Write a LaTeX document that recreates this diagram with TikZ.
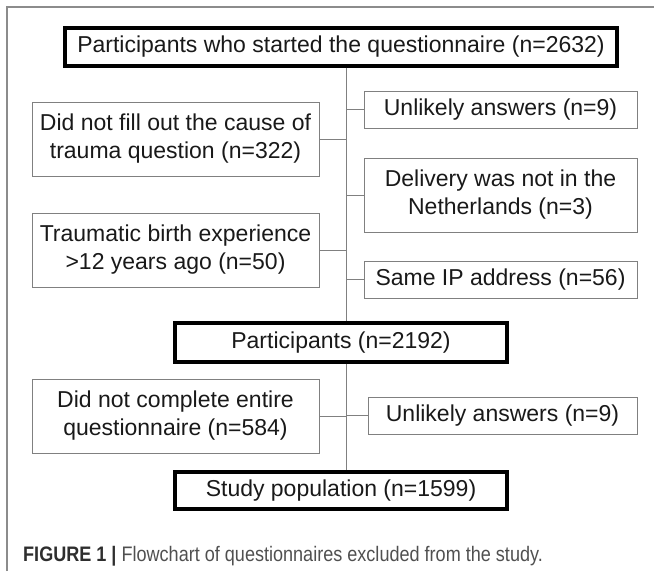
\documentclass[tikz,border=0pt]{standalone}
\usepackage{fontspec}
\setmainfont{Liberation Sans}
\newfontfamily\capfont[FakeStretch=0.86]{Liberation Sans}
\definecolor{framegray}{HTML}{8C8C8C}
\definecolor{boxgray}{HTML}{808080}
\definecolor{capdark}{HTML}{2E2E2E}
\definecolor{capgray}{HTML}{505050}

\begin{document}
\begin{tikzpicture}[x=1pt, y=-1pt,
   every node/.style={font=\fontsize{23}{28}\selectfont, align=center, inner sep=0pt, text=black!90},
   mainbox/.style={draw=black, line width=3.1pt, minimum width=332pt},
   exclbox/.style={draw=boxgray, line width=0.9pt},
   leftbox/.style={exclbox, minimum width=287pt, minimum height=74pt},
   rightbox/.style={exclbox, minimum width=273pt},
   link/.style={boxgray, line width=0.9pt}]
   \useasboundingbox (0,0) rectangle (654,571);
   \draw[framegray, line width=1.2pt] (7,571) -- (7,7) -- (654,7);

   \node[mainbox, minimum width=552pt, minimum height=38pt] (start) at (341,47) {Participants who started the questionnaire (n=2632)};
   \node[mainbox, minimum height=39pt] (part) at (341,342.5) {Participants (n=2192)};
   \node[mainbox, minimum height=37pt] (study) at (341,490.5) {Study population (n=1599)};

   \node[leftbox] (nocause) at (175.5,139) {Did not fill out the cause of\\trauma question (n=322)};
   \node[leftbox] (oldbirth) at (175.5,250) {Traumatic birth experience\\>12 years ago (n=50)};
   \node[leftbox] (incomplete) at (175.5,416) {Did not complete entire\\questionnaire (n=584)};

   \node[rightbox, minimum height=37pt] (unlikely) at (500.5,109.5) {Unlikely answers (n=9)};
   \node[rightbox, minimum height=74pt] (abroad) at (500.5,195) {Delivery was not in the\\Netherlands (n=3)};
   \node[rightbox, minimum height=37pt] (sameip) at (500.5,279.5) {Same IP address (n=56)};
   \node[rightbox, minimum width=269pt, minimum height=37pt] (unlikelyb) at (502.5,415.5) {Unlikely answers (n=9)};

   \coordinate (spine) at (346,0);
   \draw[link] (spine |- start.south) -- (spine |- part.north);
   \draw[link] (spine |- part.south) -- (spine |- study.north);
   \draw[link] (nocause.east) -- (spine |- nocause.east);
   \draw[link] (oldbirth.east) -- (spine |- oldbirth.east);
   \draw[link] (incomplete.east) -- (spine |- incomplete.east);
   \draw[link] (spine |- unlikely.west) -- (unlikely.west);
   \draw[link] (spine |- abroad.west) -- (abroad.west);
   \draw[link] (spine |- sameip.west) -- (sameip.west);
   \draw[link] (spine |- unlikelyb.west) -- (unlikelyb.west);

   \node[anchor=base west, font=\capfont\fontsize{21}{25}\selectfont, text=capgray] (caption) at (23,561)
      {\textcolor{capdark}{\bfseries FIGURE 1 |} Flowchart of questionnaires excluded from the study.};
\end{tikzpicture}
\end{document}
